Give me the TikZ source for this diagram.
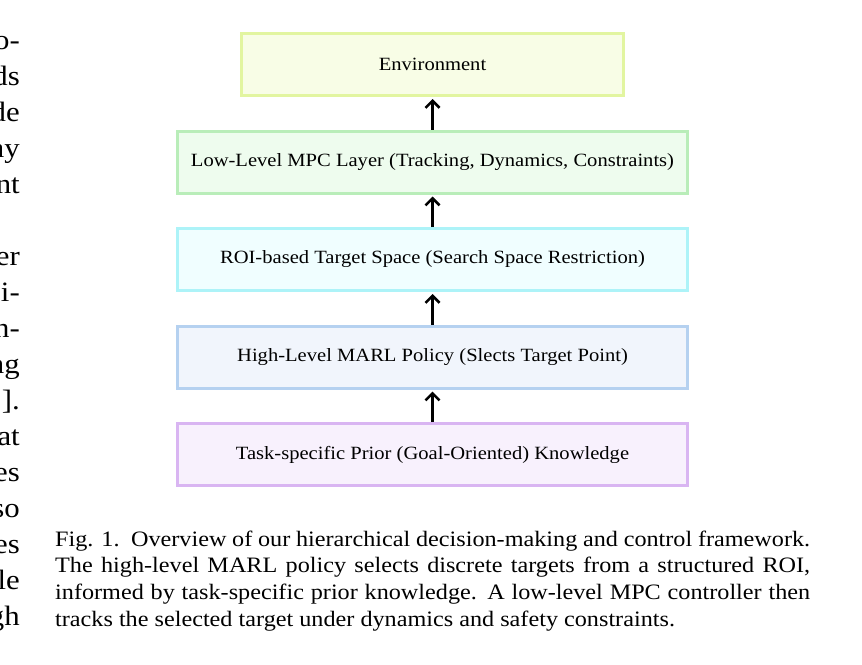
\documentclass[tikz,border=0pt]{standalone}
\usepackage{fontspec}
\setmainfont{Liberation Serif}[FakeStretch=1.1]
\usetikzlibrary{positioning, arrows.meta}

\definecolor{envfill}{HTML}{F8FDE6}
\definecolor{envline}{HTML}{E2F5A0}
\definecolor{mpcfill}{HTML}{EEFCEE}
\definecolor{mpcline}{HTML}{B9EDB9}
\definecolor{roifill}{HTML}{F0FEFF}
\definecolor{roiline}{HTML}{ADF3F8}
\definecolor{marlfill}{HTML}{F1F5FC}
\definecolor{marlline}{HTML}{B5D1F0}
\definecolor{taskfill}{HTML}{F8F1FD}
\definecolor{taskline}{HTML}{D9B5F2}

\begin{document}
\begin{tikzpicture}[x=1pt, y=1pt, >={Straight Barb[length=7pt, width=14pt]},
    layer/.style={draw, line width=3pt, minimum width=510pt, minimum height=62pt,
        font=\fontsize{18.7}{22}\selectfont},
    flow/.style={->, line width=2.6pt, shorten >=2pt},
    sidetext/.style={anchor=base east, inner sep=0pt, font=\fontsize{28}{34}\selectfont}]
    \useasboundingbox (0,0) rectangle (862,-664);

    % Layers, bottom to top
    \node[layer, fill=taskfill, draw=taskline] (task) at (432.5,-454.5)
        {Task-specific Prior (Goal-Oriented) Knowledge};
    \node[layer, fill=marlfill, draw=marlline, above=32.5pt of task] (marl)
        {High-Level MARL Policy (Slects Target Point)};
    \node[layer, fill=roifill, draw=roiline, above=32.5pt of marl] (roi)
        {ROI-based Target Space (Search Space Restriction)};
    \node[layer, fill=mpcfill, draw=mpcline, above=32.5pt of roi] (mpc)
        {Low-Level MPC Layer (Tracking, Dynamics, Constraints)};
    \node[layer, fill=envfill, draw=envline, minimum width=382pt, above=32.5pt of mpc] (env)
        {Environment};

    % Arrows
    \draw[flow] (task) -- (marl);
    \draw[flow] (marl) -- (roi);
    \draw[flow] (roi) -- (mpc);
    \draw[flow] (mpc) -- (env);

    % Cut-off column on the left
    \foreach \n/\txt in {0/o-, 1/ds, 2/de, 3/ay, 4/nt, 6/er, 7/i-, 8/n-, 9/ng,
        10/{].}, 11/at, 12/es, 13/so, 14/es, 15/le, 16/gh}
        \node[sidetext] (side\n) at (20,-49-36*\n) {\txt};

    % Caption
    \node[anchor=base west, inner sep=0pt, text width=755pt, align=justify,
        font=\fontsize{22}{26.7}\selectfont] (caption) at (55,-546)
        {Fig. 1.\ \ Overview of our hierarchical decision-making and control framework.\linebreak
         The high-level MARL policy selects discrete targets from a structured ROI,\linebreak
         informed by task-specific prior knowledge. A low-level MPC controller then\linebreak
         tracks the selected target under dynamics and safety constraints.};
\end{tikzpicture}
\end{document}
